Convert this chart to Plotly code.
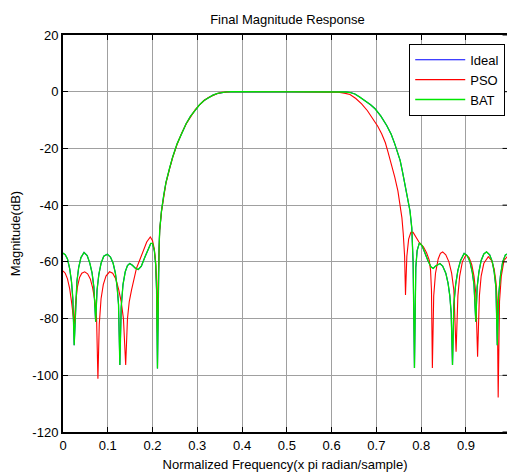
import plotly.graph_objects as go

# ---------------- data ----------------
bat_points = [
    (0.000, -56.9), (0.005, -57.5), (0.010, -59.0), (0.015, -62.5), (0.019, -67.0),
    (0.022, -73.0), (0.025, -89.4), (0.028, -74.0), (0.031, -67.0), (0.035, -62.0),
    (0.040, -58.5), (0.047, -56.7), (0.054, -57.8), (0.060, -60.5), (0.065, -64.0),
    (0.069, -69.0), (0.073, -81.1), (0.076, -70.0), (0.080, -64.5), (0.085, -60.5),
    (0.091, -58.0), (0.099, -57.3), (0.106, -58.3), (0.112, -60.5), (0.117, -64.0),
    (0.121, -69.0), (0.124, -75.0), (0.127, -96.4), (0.130, -76.0), (0.134, -68.0),
    (0.139, -63.5), (0.144, -61.3), (0.149, -60.6), (0.155, -61.2), (0.162, -62.3),
    (0.168, -62.7), (0.175, -61.5), (0.183, -58.3), (0.190, -55.3), (0.196, -53.5),
    (0.200, -53.5), (0.204, -56.0), (0.207, -61.0), (0.209, -70.0), (0.211, -97.6),
    (0.2125, -70.0), (0.2145, -55.0), (0.216, -48.8), (0.220, -42.0), (0.225, -36.5),
    (0.230, -32.0), (0.238, -27.0), (0.245, -23.0), (0.255, -18.3), (0.265, -14.5),
    (0.275, -11.3), (0.285, -8.6), (0.295, -6.4), (0.305, -4.6), (0.315, -3.1),
    (0.325, -2.0), (0.335, -1.2), (0.345, -0.6), (0.355, -0.25), (0.365, -0.08),
    (0.375, 0.0), (0.500, 0.0), (0.622, 0.0), (0.632, -0.1), (0.642, -0.3),
    (0.652, -0.8), (0.663, -1.9), (0.675, -3.2), (0.687, -4.6), (0.697, -6.0),
    (0.710, -8.6), (0.723, -11.9), (0.733, -15.0), (0.741, -18.4), (0.748, -21.5),
    (0.753, -24.2), (0.758, -28.0), (0.763, -32.5), (0.770, -37.5), (0.775, -42.0),
    (0.779, -48.0), (0.782, -60.0), (0.785, -97.4), (0.788, -62.0), (0.791, -56.0),
    (0.796, -53.3), (0.802, -54.3), (0.808, -56.8), (0.815, -59.5), (0.822, -61.8),
    (0.827, -62.3), (0.832, -61.5), (0.838, -60.8), (0.842, -60.6), (0.848, -61.5),
    (0.855, -64.0), (0.860, -67.5), (0.864, -72.0), (0.867, -78.0), (0.870, -96.4),
    (0.873, -75.0), (0.877, -68.0), (0.882, -63.0), (0.888, -59.5), (0.896, -57.0),
    (0.903, -57.8), (0.909, -60.0), (0.914, -63.5), (0.918, -68.0), (0.922, -81.1),
    (0.925, -69.0), (0.929, -63.5), (0.934, -59.5), (0.940, -57.2), (0.946, -56.5),
    (0.953, -57.5), (0.959, -60.0), (0.963, -63.5), (0.967, -69.0), (0.970, -89.4),
    (0.973, -72.0), (0.977, -65.0), (0.982, -60.0), (0.988, -57.6), (0.995, -57.0),
    (1.000, -56.9),
]

pso_points = [
    (0.000, -63.2), (0.005, -64.0), (0.010, -66.0), (0.015, -69.5), (0.019, -74.0),
    (0.022, -78.0), (0.025, -82.0), (0.028, -75.0), (0.032, -69.0), (0.037, -65.5),
    (0.042, -64.0), (0.0485, -63.5), (0.055, -64.2), (0.061, -66.0), (0.066, -69.0),
    (0.071, -73.5), (0.075, -80.0), (0.078, -101.2), (0.081, -82.0), (0.085, -73.0),
    (0.090, -68.0), (0.096, -65.0), (0.104, -63.5), (0.111, -64.0), (0.118, -66.0),
    (0.124, -69.5), (0.130, -74.0), (0.135, -80.0), (0.140, -96.4), (0.144, -80.0),
    (0.148, -74.0), (0.153, -70.0), (0.158, -66.0), (0.164, -62.3), (0.171, -59.5),
    (0.179, -56.0), (0.187, -53.0), (0.195, -51.2), (0.200, -52.5), (0.204, -55.5),
    (0.207, -60.0), (0.209, -67.0), (0.211, -85.0), (0.2125, -68.0), (0.2145, -55.0),
    (0.216, -48.8), (0.220, -42.2), (0.225, -36.7), (0.230, -32.2), (0.238, -27.2),
    (0.245, -23.2), (0.255, -18.5), (0.265, -14.6), (0.275, -11.4), (0.285, -8.7),
    (0.295, -6.4), (0.305, -4.6), (0.315, -3.1), (0.325, -2.0), (0.335, -1.2),
    (0.345, -0.6), (0.355, -0.25), (0.365, -0.08), (0.375, 0.0), (0.500, 0.0),
    (0.603, 0.0), (0.615, -0.15), (0.628, -0.5), (0.641, -1.0), (0.654, -2.4),
    (0.667, -4.3), (0.680, -6.7), (0.693, -9.6), (0.703, -12.2), (0.712, -14.9),
    (0.720, -18.0), (0.726, -21.3), (0.734, -25.5), (0.741, -30.1), (0.748, -35.0),
    (0.753, -39.5), (0.757, -44.5), (0.760, -50.1), (0.763, -58.0), (0.765, -71.7),
    (0.768, -58.0), (0.772, -52.0), (0.777, -49.6), (0.782, -49.6), (0.788, -51.0),
    (0.795, -53.0), (0.805, -54.7), (0.812, -56.8), (0.818, -59.4), (0.821, -63.0),
    (0.823, -70.0), (0.825, -97.4), (0.828, -72.0), (0.832, -64.0), (0.838, -59.0),
    (0.843, -57.0), (0.848, -56.5), (0.855, -57.5), (0.862, -60.0), (0.868, -64.0),
    (0.873, -70.0), (0.878, -91.7), (0.882, -72.0), (0.886, -65.0), (0.892, -60.0),
    (0.900, -57.6), (0.907, -58.5), (0.913, -61.0), (0.918, -65.0), (0.922, -71.0),
    (0.926, -93.5), (0.930, -72.0), (0.934, -65.0), (0.940, -60.5), (0.950, -58.2),
    (0.957, -59.5), (0.963, -62.5), (0.967, -67.0), (0.970, -74.0), (0.972, -107.8),
    (0.975, -74.0), (0.979, -65.0), (0.985, -59.5), (0.992, -58.2), (1.000, -58.0),
]

# The ideal response is drawn underneath the BAT curve (identical in the picture)
ideal_points = list(bat_points)

series_names = ["Ideal", "PSO", "BAT"]
series_colors = ["#0000ff", "#ff0000", "#00e600"]

x_ticks = [0, 0.1, 0.2, 0.3, 0.4, 0.5, 0.6, 0.7, 0.8, 0.9]
x_tick_labels = ["0", "0.1", "0.2", "0.3", "0.4", "0.5", "0.6", "0.7", "0.8", "0.9"]
y_ticks = [-120, -100, -80, -60, -40, -20, 0, 20]
y_tick_labels = ["-120", "-100", "-80", "-60", "-40", "-20", "0", "20"]

# ---------------- figure ----------------
FONT = "Liberation Sans, Arial, sans-serif"
fig = go.Figure()
for name, color, pts in zip(series_names, series_colors, [ideal_points, pso_points, bat_points]):
    fig.add_trace(go.Scatter(
        x=[p[0] for p in pts], y=[p[1] for p in pts], mode="lines", name=name,
        line=dict(color=color, width=1.1 if name != "BAT" else 1.3),
    ))

# right-edge inside ticks (border itself falls just outside the picture)
for yt in y_ticks:
    fig.add_shape(type="line", xref="paper", yref="y", x0=0.99, x1=1.0, y0=yt, y1=yt,
                  line=dict(color="black", width=1))

fig.update_layout(
    width=507, height=473,
    margin=dict(l=63, r=0, t=35, b=41),
    paper_bgcolor="white", plot_bgcolor="white",
    font=dict(family=FONT, size=13, color="black"),
    title=dict(text="Final Magnitude Response", x=0.567, xanchor="center",
               y=1 - 19 / 473, yanchor="middle", font=dict(size=13)),
    showlegend=True,
    legend=dict(x=0.996, xanchor="right", y=0.978, yanchor="top",
                bgcolor="white", bordercolor="black", borderwidth=1,
                font=dict(size=13), tracegroupgap=0, itemwidth=50),
)
fig.update_xaxes(
    range=[0, 0.9917], tickvals=x_ticks, ticktext=x_tick_labels,
    ticks="inside", ticklen=5, tickcolor="black", tickwidth=1,
    showline=True, linecolor="black", linewidth=2, mirror="ticks",
    showgrid=True, gridcolor="#a0a0a0", gridwidth=1, zeroline=False,
    title=dict(text="Normalized Frequency(x pi radian/sample)", standoff=8,
               font=dict(size=13)),
)
fig.update_yaxes(
    range=[-120, 20], tickvals=y_ticks, ticktext=y_tick_labels,
    ticks="inside", ticklen=5, tickcolor="black", tickwidth=1,
    showline=True, linecolor="black", linewidth=2, mirror=False,
    showgrid=True, gridcolor="#a0a0a0", gridwidth=1, zeroline=False,
    title=dict(text="Magnitude(dB)", standoff=9, font=dict(size=13)),
)

fig.write_html(
    "out.html",
    config={"displayModeBar": False},
    post_script="document.body.style.margin='0';document.body.style.overflow='hidden';",
)
